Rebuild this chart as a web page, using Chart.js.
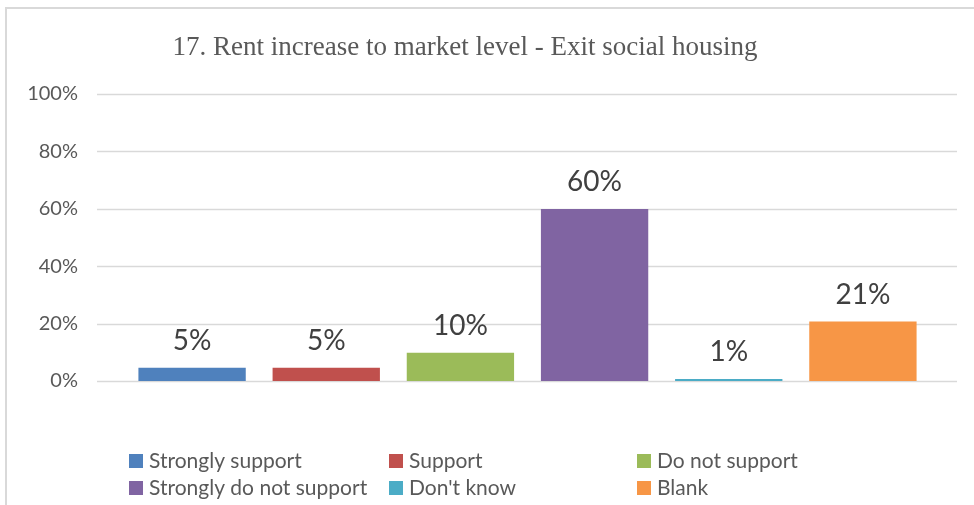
<!DOCTYPE html>
<html>
<head>
<meta charset="utf-8">
<title>Rent increase to market level</title>
<script src="https://cdn.jsdelivr.net/npm/chart.js@4.4.0/dist/chart.umd.min.js"></script>
<style>
  body { margin: 0; background: #fff; }
  #wrap { position: relative; width: 974px; height: 505px; overflow: hidden; }
  #frame { position: absolute; left: 5px; top: 7px; width: 1000px; height: 600px;
           border-left: 2px solid #d9d9d9; border-top: 2px solid #d9d9d9; }
  canvas { position: absolute; left: 0; top: 0; }
</style>
</head>
<body>
<div id="wrap">
  <div id="frame"></div>
  <canvas id="myChart" width="974" height="505"></canvas>
</div>
<script>
const categories = ["Strongly support", "Support", "Do not support", "Strongly do not support", "Don't know", "Blank"];
const shares = [4.6, 4.6, 9.8, 59.9, 0.7, 20.7];
const barColors = ["#4f81bd", "#c0504d", "#9bbb59", "#8064a2", "#4bacc6", "#f79646"];
const yTicks = [0, 20, 40, 60, 80, 100];
const chartTitle = "17. Rent increase to market level - Exit social housing";

// excel-style gridlines run a bit wider than the bars
const gridLines = {
  id: "gridLines",
  beforeDatasetsDraw(chart) {
    const ctx = chart.ctx;
    const y = chart.scales.y;
    ctx.save();
    ctx.strokeStyle = "#d9d9d9";
    ctx.lineWidth = 1.5;
    yTicks.forEach((t) => {
      const py = Math.round(y.getPixelForValue(t)) + 0.5;
      ctx.beginPath();
      ctx.moveTo(97, py);
      ctx.lineTo(957, py);
      ctx.stroke();
    });
    ctx.restore();
  },
};

const valueLabels = {
  id: "valueLabels",
  afterDatasetsDraw(chart) {
    const ctx = chart.ctx;
    ctx.save();
    ctx.font = "28px Lato";
    ctx.fillStyle = "#404040";
    ctx.textAlign = "center";
    ctx.textBaseline = "alphabetic";
    chart.getDatasetMeta(0).data.forEach((bar, i) => {
      ctx.fillText(Math.round(shares[i]) + "%", bar.x, bar.y - 18);
    });
    ctx.restore();
  },
};

const titleText = {
  id: "titleText",
  afterDraw(chart) {
    const ctx = chart.ctx;
    ctx.save();
    ctx.font = "27px 'Liberation Serif'";
    ctx.fillStyle = "#595959";
    ctx.textAlign = "center";
    ctx.textBaseline = "alphabetic";
    ctx.fillText(chartTitle, 465, 55);
    ctx.restore();
  },
};

// legend laid out in fixed columns like the original
const gridLegend = {
  id: "gridLegend",
  afterDraw(chart) {
    const ctx = chart.ctx;
    const colX = [129, 389, 637];
    const rowY = [454, 481];
    ctx.save();
    ctx.font = "21px Lato";
    ctx.textBaseline = "alphabetic";
    categories.forEach((label, i) => {
      const x = colX[i % 3];
      const y = rowY[Math.floor(i / 3)];
      ctx.fillStyle = barColors[i];
      ctx.fillRect(x, y, 14, 14);
      ctx.fillStyle = "#595959";
      ctx.fillText(label, x + 20, y + 14);
    });
    ctx.restore();
  },
};

new Chart(document.getElementById("myChart"), {
  type: "bar",
  data: {
    labels: categories,
    datasets: [
      {
        data: shares,
        backgroundColor: barColors,
        barPercentage: 0.8,
        categoryPercentage: 1.0,
      },
    ],
  },
  options: {
    responsive: false,
    animation: false,
    layout: { padding: { top: 94, bottom: 124, left: 0, right: 44 } },
    plugins: {
      legend: { display: false },
      title: { display: false },
      tooltip: { enabled: false },
    },
    scales: {
      x: { display: false },
      y: {
        min: 0,
        max: 100,
        afterFit(scale) {
          scale.width = 125;
        },
        afterBuildTicks(scale) {
          scale.ticks = yTicks.map((v) => ({ value: v }));
        },
        ticks: {
          padding: 47,
          color: "#595959",
          font: { family: "Lato", size: 20 },
          callback: (v) => v + "%",
        },
        grid: { display: false, drawTicks: false },
        border: { display: false },
      },
    },
  },
  plugins: [gridLines, valueLabels, titleText, gridLegend],
});
</script>
</body>
</html>
